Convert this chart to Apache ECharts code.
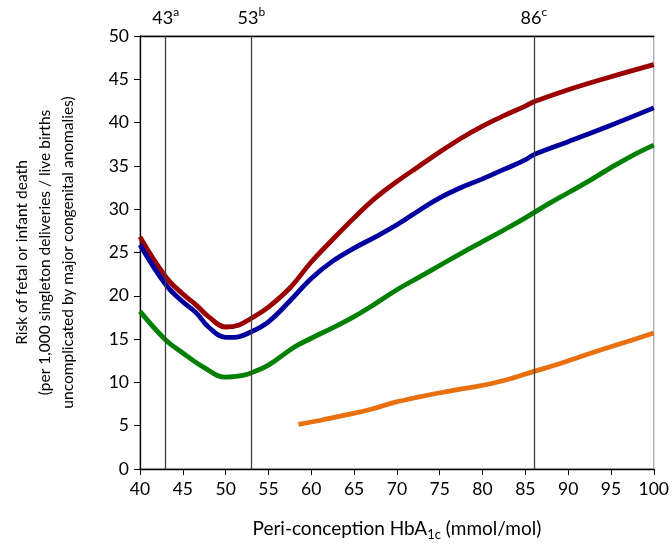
<!DOCTYPE html>
<html>
<head>
<meta charset="utf-8">
<script src="https://cdn.jsdelivr.net/npm/echarts@6/dist/echarts.min.js"></script>
<style>
  html, body { margin: 0; padding: 0; background: #fff; }
  #chart { width: 672px; height: 549px; }
</style>
</head>
<body>
<div id="chart"></div>
<script>
  // HbA1c values (mmol/mol) and risk per 1,000
  const redX = [40, 43, 45, 46.6, 48, 50, 51.5, 53, 55, 57.5, 60, 62.5, 65, 67.5, 70, 72.5, 75, 77.5, 80, 82.5, 85, 86, 90, 95, 100];
  const redY = [26.8, 22.2, 20.2, 18.9, 17.6, 16.4, 16.6, 17.4, 18.7, 20.9, 23.9, 26.5, 29.0, 31.3, 33.2, 34.9, 36.6, 38.2, 39.6, 40.8, 41.9, 42.4, 43.8, 45.3, 46.7];

  const blueX = [40, 43, 45, 46.6, 48, 50, 51, 53, 55, 57.5, 60, 62.5, 65, 67.5, 70, 72.5, 75, 77.5, 80, 82.5, 85, 86, 90, 95, 100];
  const blueY = [25.9, 21.3, 19.3, 18.0, 16.4, 15.2, 15.2, 15.85, 17.0, 19.4, 22.0, 24.0, 25.5, 26.8, 28.2, 29.8, 31.3, 32.5, 33.5, 34.6, 35.7, 36.3, 37.8, 39.7, 41.7];

  const greenX = [40, 43, 45, 47.5, 50, 52, 53, 55, 57.9, 60, 62.5, 65, 67.5, 70, 72.5, 75, 77.5, 80, 82.5, 85, 87.5, 90, 92.5, 95, 97.5, 100];
  const greenY = [18.2, 14.9, 13.4, 11.7, 10.6, 10.8, 11.1, 12.0, 14.0, 15.1, 16.3, 17.6, 19.1, 20.7, 22.1, 23.5, 24.9, 26.25, 27.6, 29.0, 30.5, 31.9, 33.3, 34.8, 36.2, 37.4];

  const orangeX = [58.5, 61, 64.1, 67, 69.6, 72.5, 75.8, 78.5, 81.2, 83.5, 85.9, 88.5, 91.4, 95.25, 97.5, 100];
  const orangeY = [5.16, 5.6, 6.24, 6.9, 7.66, 8.3, 8.93, 9.4, 9.9, 10.5, 11.24, 12.0, 12.97, 14.2, 14.9, 15.7];

  const refLines = [43, 53, 86];
  const refSup = ['a', 'b', 'c'];

  const xTicks = { min: 40, max: 100, interval: 5 };
  const yTicks = { min: 0, max: 50, interval: 5 };

  const FONT = 'Lato, "Open Sans", sans-serif';

  function pairs(xs, ys) {
    return xs.map((x, i) => [x, ys[i]]);
  }

  function curve(name, color, xs, ys) {
    return {
      name: name,
      type: 'line',
      data: pairs(xs, ys),
      smooth: 0.4,
      showSymbol: false,
      lineStyle: { color: color, width: 4.8 },
      itemStyle: { color: color },
      z: 3
    };
  }

  const series = [
    curve('red', '#9a0000', redX, redY),
    curve('blue', '#00009e', blueX, blueY),
    curve('green', '#008000', greenX, greenY),
    curve('orange', '#e8700e', orangeX, orangeY)
  ];

  // vertical reference lines with their labels above the plot
  series.push({
    type: 'line',
    data: [],
    silent: true,
    markLine: {
      silent: true,
      symbol: 'none',
      animation: false,
      lineStyle: { color: '#404040', width: 1.3, type: 'solid' },
      label: {
        show: true,
        position: 'end',
        distance: 6,
        formatter: function (p) {
          return p.value + '{sup|' + refSup[refLines.indexOf(p.value)] + '}';
        },
        color: '#000',
        fontFamily: FONT,
        fontSize: 18,
        lineHeight: 24,
        rich: {
          sup: { fontSize: 12, fontFamily: FONT, color: '#000', verticalAlign: 'top', lineHeight: 14 }
        }
      },
      data: refLines.map(v => ({ xAxis: v }))
    }
  });

  const chart = echarts.init(document.getElementById('chart'));
  chart.setOption({
    animation: false,
    textStyle: { fontFamily: FONT },
    grid: {
      left: 140, right: 18, top: 36, bottom: 80,
      show: true, borderColor: '#909090', borderWidth: 1
    },
    xAxis: [{
      type: 'value',
      min: xTicks.min, max: xTicks.max, interval: xTicks.interval,
      position: 'bottom',
      axisLine: { lineStyle: { color: '#000', width: 1.3 } },
      axisTick: { inside: false, length: 6, lineStyle: { color: '#000' } },
      axisLabel: { color: '#000', fontSize: 17.5, fontFamily: FONT, margin: 11 },
      splitLine: { show: false },
      name: 'Peri-conception HbA{sub|1c} (mmol/mol)',
      nameLocation: 'middle',
      nameGap: 48,
      nameTextStyle: {
        color: '#000', fontSize: 19, fontFamily: FONT, lineHeight: 24,
        rich: { sub: { fontSize: 13, fontFamily: FONT, color: '#000', verticalAlign: 'bottom', lineHeight: 13 } }
      }
    }, {
      type: 'value',
      min: xTicks.min, max: xTicks.max,
      position: 'top',
      axisLine: { show: true, lineStyle: { color: '#000', width: 1.3 } },
      axisTick: { show: false },
      axisLabel: { show: false },
      splitLine: { show: false }
    }],
    yAxis: {
      type: 'value',
      min: yTicks.min, max: yTicks.max, interval: yTicks.interval,
      axisLine: { show: true, lineStyle: { color: '#000', width: 1.3 } },
      axisTick: { show: true, inside: false, length: 6, lineStyle: { color: '#000' } },
      axisLabel: { color: '#000', fontSize: 17.5, fontFamily: FONT, margin: 11 },
      splitLine: { show: false },
      name: 'Risk of fetal or infant death\n(per 1,000 singleton deliveries / live births\nuncomplicated by major congenital anomalies)',
      nameLocation: 'middle',
      nameRotate: 90,
      nameGap: 61,
      nameTextStyle: { color: '#000', fontSize: 15.5, fontFamily: FONT, lineHeight: 23, align: 'center' }
    },
    series: series
  });
</script>
</body>
</html>
